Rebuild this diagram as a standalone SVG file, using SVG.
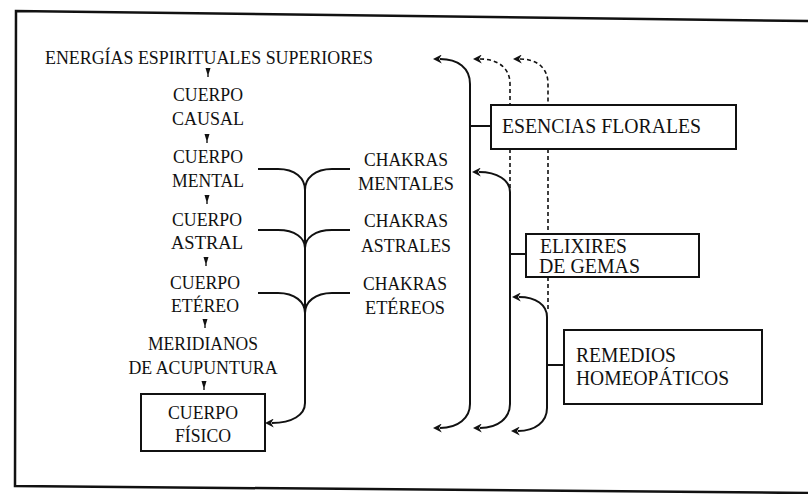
<svg xmlns="http://www.w3.org/2000/svg" width="808" height="494" viewBox="0 0 808 494">
<style>
text{font-family:"Liberation Serif","Times New Roman",serif;fill:#111;}
.l{font-size:18px;text-anchor:middle;}
.r{font-size:20px;}
.box{fill:#fff;stroke:#111;stroke-width:2;}
.ln{fill:none;stroke:#111;stroke-width:2;}
.ds{fill:none;stroke:#111;stroke-width:1.6;stroke-dasharray:4 3;}
</style>
<defs>
<marker id="ah" viewBox="0 0 10 10" refX="2" refY="5" markerWidth="9" markerHeight="9" markerUnits="userSpaceOnUse" orient="auto-start-reverse">
<path d="M0,5 L10,0 L7,5 L10,10 Z" fill="#111" transform="rotate(180 5 5)"/>
</marker>
<path id="tick" d="M-2.5,0 L2.5,0 L0.7,6 L0.7,9 L-0.7,9 L-0.7,6 Z" fill="#111"/>
</defs>
<rect width="808" height="494" fill="#fff"/>
<path id="frame" d="M808,21 L16,11 L15,486 L808,493" fill="none" stroke="#111" stroke-width="2.5"/>

<g id="n-energias"><text class="l" x="209" y="64" textLength="328" lengthAdjust="spacingAndGlyphs">ENERGÍAS ESPIRITUALES SUPERIORES</text></g>
<g id="n-causal"><text class="l" x="208" y="101" textLength="70" lengthAdjust="spacingAndGlyphs">CUERPO</text><text class="l" x="208" y="125" textLength="72" lengthAdjust="spacingAndGlyphs">CAUSAL</text></g>
<g id="n-mental"><text class="l" x="208" y="163" textLength="70" lengthAdjust="spacingAndGlyphs">CUERPO</text><text class="l" x="208" y="187" textLength="72" lengthAdjust="spacingAndGlyphs">MENTAL</text></g>
<g id="n-astral"><text class="l" x="207" y="226" textLength="70" lengthAdjust="spacingAndGlyphs">CUERPO</text><text class="l" x="207" y="249" textLength="72" lengthAdjust="spacingAndGlyphs">ASTRAL</text></g>
<g id="n-etereo"><text class="l" x="205" y="289" textLength="70" lengthAdjust="spacingAndGlyphs">CUERPO</text><text class="l" x="205" y="312" textLength="68" lengthAdjust="spacingAndGlyphs">ETÉREO</text></g>
<g id="n-meridianos"><text class="l" x="203" y="350" textLength="110" lengthAdjust="spacingAndGlyphs">MERIDIANOS</text><text class="l" x="203" y="374" textLength="149" lengthAdjust="spacingAndGlyphs">DE ACUPUNTURA</text></g>
<g id="n-fisico"><rect class="box" x="141" y="394" width="124" height="57"/><text class="l" x="203" y="419" textLength="70" lengthAdjust="spacingAndGlyphs">CUERPO</text><text class="l" x="203" y="442" textLength="56" lengthAdjust="spacingAndGlyphs">FÍSICO</text></g>

<g id="n-chakras-mentales"><text class="l" x="406" y="166" textLength="84" lengthAdjust="spacingAndGlyphs">CHAKRAS</text><text class="l" x="406" y="190" textLength="96" lengthAdjust="spacingAndGlyphs">MENTALES</text></g>
<g id="n-chakras-astrales"><text class="l" x="406" y="227" textLength="84" lengthAdjust="spacingAndGlyphs">CHAKRAS</text><text class="l" x="406" y="252" textLength="90" lengthAdjust="spacingAndGlyphs">ASTRALES</text></g>
<g id="n-chakras-etereos"><text class="l" x="405" y="290" textLength="84" lengthAdjust="spacingAndGlyphs">CHAKRAS</text><text class="l" x="405" y="314" textLength="80" lengthAdjust="spacingAndGlyphs">ETÉREOS</text></g>

<g id="n-esencias"><rect class="box" x="491" y="105" width="245" height="44"/><text class="r" x="502" y="133" textLength="199" lengthAdjust="spacingAndGlyphs">ESENCIAS FLORALES</text></g>
<g id="n-elixires"><rect class="box" x="526" y="234" width="173" height="43"/><text class="r" x="540" y="253" textLength="87" lengthAdjust="spacingAndGlyphs">ELIXIRES</text><text class="r" x="539" y="273" textLength="101" lengthAdjust="spacingAndGlyphs">DE GEMAS</text></g>
<g id="n-remedios"><rect class="box" x="564" y="330" width="198" height="74"/><text class="r" x="576" y="362" textLength="100" lengthAdjust="spacingAndGlyphs">REMEDIOS</text><text class="r" x="576" y="385" textLength="153" lengthAdjust="spacingAndGlyphs">HOMEOPÁTICOS</text></g>

<g id="connectors">
<use href="#tick" x="208" y="68"/>
<use href="#tick" x="207" y="134"/>
<use href="#tick" x="207" y="195"/>
<use href="#tick" x="206" y="257"/>
<use href="#tick" x="205" y="319"/>
<use href="#tick" x="204" y="381"/>

<path class="ln" d="M258,169 L278,169 C295,169 305,178 305,190 M350,169 L332,169 C315,169 305,178 305,190"/>
<path class="ln" d="M258,230 L278,230 C295,230 305,238 305,248 M350,230 L332,230 C315,230 305,238 305,248"/>
<path class="ln" d="M258,293 L278,293 C295,293 305,302 305,313 M350,293 L332,293 C315,293 305,302 305,313"/>
<path class="ln" d="M305,190 L305,403 C305,415 292,423 272,423" marker-end="url(#ah)"/>

<path class="ln" d="M440,59 C458,59 470,68 470,84 L470,404 C470,418 458,428 440,428" marker-start="url(#ah)" marker-end="url(#ah)"/>
<path class="ln" d="M470,126 L491,126"/>
<path class="ds" d="M480,59 C498,59 510,68 510,84 L510,105" marker-start="url(#ah)"/>
<path class="ds" d="M510,149 L510,190"/>
<path class="ln" d="M479,172 C497,172 510,180 510,192 L510,404 C510,418 498,428 480,428" marker-start="url(#ah)" marker-end="url(#ah)"/>
<path class="ln" d="M510,254 L526,254"/>
<path class="ds" d="M520,59 C537,59 548,68 548,84 L548,105" marker-start="url(#ah)"/>
<path class="ds" d="M548,149 L548,234"/>
<path class="ds" d="M548,277 L548,312"/>
<path class="ln" d="M519,297 C536,297 547,305 547,317 L547,408 C547,422 535,431 518,431" marker-start="url(#ah)" marker-end="url(#ah)"/>
<path class="ln" d="M547,365 L564,365"/>
</g>
</svg>
